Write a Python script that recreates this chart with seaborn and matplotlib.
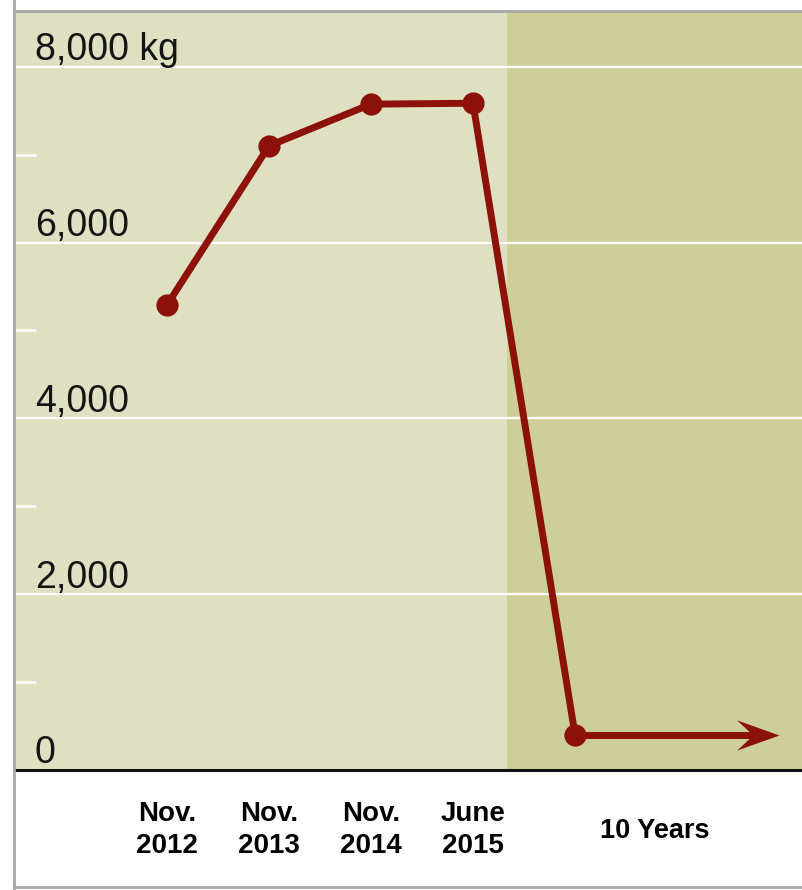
import numpy as np
import pandas as pd
import matplotlib
matplotlib.use('Agg')
import matplotlib.pyplot as plt
from matplotlib.lines import Line2D
from matplotlib.path import Path
import seaborn as sns

# data
periods = ['Nov.\n2012', 'Nov.\n2013', 'Nov.\n2014', 'June\n2015', '10 Years']
stock_kg = [5290, 7100, 7575, 7585, 400]
arrow_end = 6            # horizon the last value is carried to
y_major = [0, 2000, 4000, 6000, 8000]
y_labels = ['0', '2,000', '4,000', '6,000', '8,000 kg']
y_minor = [1000, 3000, 5000, 7000]

light_bg = '#dfdfc1'
dark_bg = '#cece98'
red = '#8c1109'

sns.set_theme(style='white')
plt.rcParams['font.family'] = ['Liberation Sans', 'DejaVu Sans']

df = pd.DataFrame({'pos': np.arange(len(periods)), 'kg': stock_kg, 'period': periods})

fig = plt.figure(figsize=(8.03, 8.90), dpi=100)
W, H = 803, 890
ax = fig.add_axes([15 / W, (H - 770) / H, 788 / W, (770 - 12) / H])
ax.set_xlim(-1.49, 6.235)
ax.set_ylim(0, 8623)
ax.set_facecolor(light_bg)

shade_start = 3.33
ax.axvspan(shade_start, 6.235, color=dark_bg, lw=0, zorder=0)

# gridlines and minor ticks
for v in y_major[1:]:
    ax.axhline(v, color='white', lw=1.6, zorder=1)
ax.set_yticks(y_major)
ax.set_yticklabels([])
ax.set_yticks(y_minor, minor=True)
ax.tick_params(axis='y', which='major', length=0)
ax.tick_params(axis='y', which='minor', direction='in', length=15, width=1.8,
               color='white', left=True)

for v, lab in zip(y_major, y_labels):
    ax.text(0.025, v + 75, lab, transform=ax.get_yaxis_transform(),
            ha='left', va='baseline', fontsize=27, color='#141414', zorder=3)

# line
sns.lineplot(data=df, x='pos', y='kg', ax=ax, color=red, lw=5,
             marker='o', markersize=16, markeredgewidth=0, zorder=4)
ax.plot([df['pos'].iloc[-1], arrow_end - 0.2], [stock_kg[-1]] * 2, color=red, lw=5,
        solid_capstyle='butt', zorder=4)
head = Path([(0, 0), (-42, 15), (-26, 0), (-42, -15), (0, 0)],
            [Path.MOVETO, Path.LINETO, Path.LINETO, Path.LINETO, Path.CLOSEPOLY])
ax.plot([arrow_end], [stock_kg[-1]], marker=head, markersize=61, color=red,
        markeredgewidth=0, zorder=5)

# x labels
ax.set_xticks(df['pos'].iloc[:-1])
ax.set_xticklabels(periods[:-1], fontsize=20, fontweight='bold', linespacing=1.3,
                   color='black')
ax.tick_params(axis='x', length=0, pad=22)
ax.text((shade_start + 6.235) / 2, -0.08, periods[-1], transform=ax.get_xaxis_transform(),
        ha='center', va='center', fontsize=19.5, fontweight='bold', color='black')
ax.set_xlabel('')
ax.set_ylabel('')

for s in ['left', 'right', 'top']:
    ax.spines[s].set_visible(False)
ax.spines['bottom'].set_color('#111111')
ax.spines['bottom'].set_linewidth(2.2)

# outer frame lines
gray = '#a8a8a8'
fig.add_artist(Line2D([14 / W, 14 / W], [0, 1], color=gray, lw=2))
fig.add_artist(Line2D([14 / W, 1], [1 - 11 / H, 1 - 11 / H], color=gray, lw=2))
fig.add_artist(Line2D([14 / W, 1], [1 - 887 / H, 1 - 887 / H], color=gray, lw=2))

fig.savefig('out.png', dpi=100, facecolor='white')
